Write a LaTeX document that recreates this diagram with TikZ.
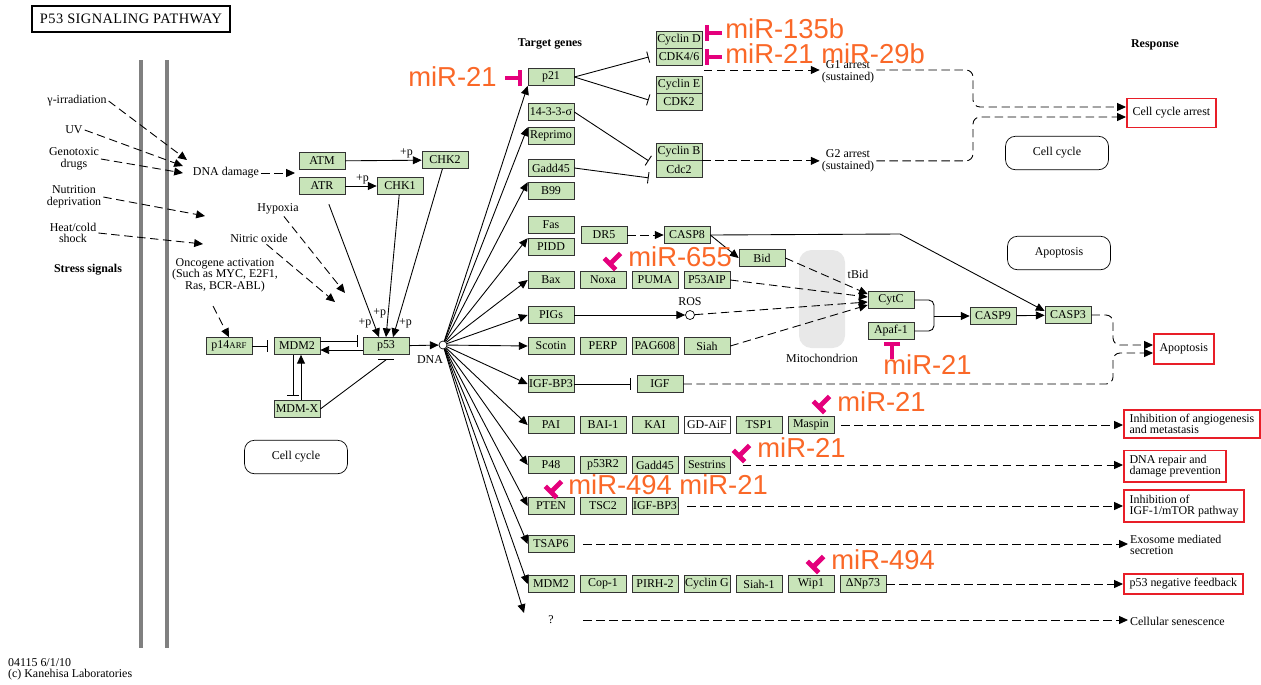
\documentclass[tikz,border=0pt]{standalone}
\usepackage{fontspec}
\setmainfont{Liberation Serif}
\newfontfamily\mirfont{Liberation Sans}
\newfontfamily\titlefont[LetterSpace=3]{Liberation Serif}
\usetikzlibrary{arrows.meta,calc}
\definecolor{genegreen}{RGB}{200,228,185}
\definecolor{respred}{RGB}{232,30,40}
\definecolor{mirorange}{RGB}{250,104,40}
\definecolor{mirpink}{RGB}{228,0,124}
\definecolor{wallgray}{RGB}{128,128,128}
\definecolor{mitogray}{RGB}{232,232,232}
\newcommand{\kegg}{\fontsize{6.8}{6.5}\selectfont}
\newcommand{\mirtee}[2]{%
  \begin{scope}[shift={#1}, rotate=#2]
    \draw[tee] (0,-8) -- (0,8);
    \draw[tee] (0,0) -- (15,0);
  \end{scope}}

\begin{document}
\begin{tikzpicture}[
  x=0.02cm, y=-0.02cm,
  gene/.style={rectangle, draw=black!80, fill=genegreen, minimum width=0.92cm, minimum height=0.34cm, inner sep=0pt, font=\kegg},
  resp/.style={rectangle, draw=respred, line width=1.1pt, align=left, inner xsep=3.2pt, inner ysep=2.5pt, font=\kegg, anchor=west},
  map/.style={rectangle, draw, rounded corners=0.2cm, minimum width=2.06cm, minimum height=0.67cm, font=\kegg},
  txt/.style={align=center, inner sep=1pt, font=\kegg},
  mir/.style={inner sep=0pt, text=mirorange, font=\mirfont\fontsize{15.6}{16}\selectfont},
  act/.style={-{Triangle[length=5pt,width=4.5pt]}, line width=0.5pt},
  indirect/.style={act, dash pattern=on 4.8pt off 2.6pt},
  inh/.style={-{Bar[width=6.5pt]}, line width=0.5pt},
  tee/.style={draw=mirpink, line width=2.8pt},
  node distance=1.04cm,
  font=\kegg
]
\useasboundingbox (0,0) rectangle (1261,684);
\fill[wallgray] (139,60) rectangle (143,648);
\fill[wallgray] (165,60) rectangle (169,648);
\fill[mitogray, rounded corners=0.25cm] (799,250) rectangle (845,348);

\node[draw, line width=1.3pt, minimum width=3.96cm, minimum height=0.52cm, inner xsep=2pt, font=\titlefont\fontsize{8.2}{9}\selectfont] (title) at (131,19) {P53 SIGNALING PATHWAY};

\node[txt] (gamma) at (77,101) {γ-irradiation};
\node[txt] (uv) at (74,130) {UV};
\node[txt] (geno) at (74,159) {Genotoxic\\drugs};
\node[txt] (nutri) at (74,197) {Nutrition\\deprivation};
\node[txt] (heat) at (73,233) {Heat/cold\\shock};
\node[txt, font=\kegg\bfseries] (stress) at (88,270) {Stress signals};
\node[txt] (dnadmg) at (226,173) {DNA damage};
\node[txt] (hypoxia) at (278,209) {Hypoxia};
\node[txt] (nitric) at (259,238) {Nitric oxide};
\node[txt] (onco) at (225,275) {Oncogene activation\\(Such as MYC, E2F1,\\Ras, BCR-ABL)};
\coordinate (dd1) at (187,160);
\coordinate (dd2) at (183,166);
\coordinate (dd3) at (183,173);
\coordinate (nutriend) at (205,216);
\coordinate (heatend) at (203,244);
\coordinate (ddend) at (295,173);
\coordinate (hypend) at (345,293);
\coordinate (noend) at (335,302);
\coordinate (oncostart) at (213,306);

\node[gene] (atm) at (322,161) {ATM};
\node[gene] (atr) at (322,186) {ATR};
\node[gene] (chk2) at (445,160) {CHK2};
\node[gene] (chk1) at (400,186) {CHK1};
\node[gene] (p53) at (386,346) {p53};
\node[gene] (mdm2) at (297,346) {MDM2};
\node[gene] (p14) at (229,346) {p14{\fontsize{5}{5}\selectfont ARF}};
\node[gene] (mdmx) at (297,409) {MDM-X};
\node[circle, draw, fill=white, inner sep=0pt, minimum size=0.16cm] (dna) at (443,345) {};
\node[txt] (dnalbl) at (430,360) {DNA};
\node[map] (cellcycleA) at (296,457) {Cell cycle};
\node[txt, anchor=west, align=left] (footer) at (6,669) {04115 6/1/10\\(c) Kanehisa Laboratories};

\draw[indirect] (gamma.east) -- (dd1);
\draw[indirect] (uv.east) -- (dd2);
\draw[indirect] (geno.east) -- (dd3);
\draw[indirect] (nutri.east) -- (nutriend);
\draw[indirect] (heat.east) -- (heatend);
\draw[indirect] (dnadmg) -- (ddend);
\draw[indirect] (hypoxia) -- (hypend);
\draw[indirect] (nitric) -- (noend);
\draw[indirect] (oncostart) -- (p14.north);
\draw[act] (atm) -- node[above, pos=0.8, inner sep=1pt] {+p} (chk2);
\draw[act] (atr) -- node[above, pos=0.55, inner sep=1pt] {+p} (chk1);
\draw[act, shorten <=0.2cm] (atr) -- node[left, pos=0.9, inner sep=1pt] {+p} ($(p53.north)+(-7,0)$);
\draw[act] (chk1) -- node[left, pos=0.83, inner sep=1pt] {+p} (p53.north);
\draw[act] (chk2) -- node[right, pos=0.92, inner sep=1pt] {+p} ($(p53.north)+(7,0)$);
\draw[inh] ($(mdm2.east)+(0,-5)$) -- ($(p53.west)+(-5,-5)$);
\draw[act] ($(p53.west)+(0,4)$) -- ($(mdm2.east)+(0,4)$);
\draw[inh] (p14) -- ($(mdm2.west)+(-6,0)$);
\draw[inh] ($(mdm2.south)+(-4,0)$) -- ($(mdmx.north)+(-4,-4)$);
\draw[act] ($(mdmx.north)+(4,0)$) -- ($(mdm2.south)+(4,0)$);
\draw[line width=0.5pt] (mdmx.east) -- ($(p53.south)+(0,5)$);
\draw[line width=0.5pt] ($(p53.south)+(-8,5)$) -- ($(p53.south)+(8,5)$);
\draw[act] (p53) -- (dna);

\node[txt, font=\kegg\bfseries] (tghead) at (550,44) {Target genes};
\node[txt, font=\kegg\bfseries] (resphead) at (1155,45) {Response};
\node[gene] (p21) at (551,77) {p21};
\node[gene] (sigma) at (551,112) {14-3-3-σ};
\node[gene] (reprimo) at (551,136) {Reprimo};
\node[gene] (gadd) at (551,168) {Gadd45};
\node[gene] (b99) at (551,191) {B99};
\node[gene] (fas) at (551,225) {Fas};
\node[gene] (pidd) at (551,247) {PIDD};
\node[gene] (bax) at (551,280) {Bax};
\node[gene, right of=bax] (noxa) {Noxa};
\node[gene, right of=noxa] (puma) {PUMA};
\node[gene, right of=puma] (p53aip) {P53AIP};
\node[gene] (pigs) at (551,315) {PIGs};
\node[gene] (scotin) at (551,346) {Scotin};
\node[gene, right of=scotin] (perp) {PERP};
\node[gene, right of=perp] (pag) {PAG608};
\node[gene, right of=pag] (siah) {Siah};
\node[gene] (igfbp) at (551,384) {IGF-BP3};
\node[gene] (igf) at (660,384) {IGF};
\node[gene] (pai) at (551,425) {PAI};
\node[gene, right of=pai] (bai) {BAI-1};
\node[gene, right of=bai] (kai) {KAI};
\node[gene, right of=kai, fill=white] (gdaif) {GD-AiF};
\node[gene, right of=gdaif] (tsp) {TSP1};
\node[gene, right of=tsp] (maspin) {Maspin};
\node[gene] (p48) at (551,465) {P48};
\node[gene, right of=p48] (p53r2) {p53R2};
\node[gene, right of=p53r2] (gadd2) {Gadd45};
\node[gene, right of=gadd2] (sestrins) {Sestrins};
\node[gene] (pten) at (551,506) {PTEN};
\node[gene, right of=pten] (tsc) {TSC2};
\node[gene, right of=tsc] (igfbp2) {IGF-BP3};
\node[gene] (tsap) at (551,544) {TSAP6};
\node[gene] (mdmb) at (551,584) {MDM2};
\node[gene, right of=mdmb] (cop) {Cop-1};
\node[gene, right of=cop] (pirh) {PIRH-2};
\node[gene, right of=pirh] (cycg) {Cyclin G};
\node[gene, right of=cycg] (siahb) {Siah-1};
\node[gene, right of=siahb] (wip) {Wip1};
\node[gene, right of=wip] (dnp73) {ΔNp73};
\node[txt] (unknown) at (551,620) {?};
\coordinate (unkend) at (524,613);

\foreach \tgt in {p21.south west, reprimo.north west, b99.north west, pidd.north west, bax.west, pigs.west, scotin.west, igfbp.west, pai.west, p48.west, pten.west, tsap.west, mdmb.west, unkend}
  \draw[act] (dna) -- (\tgt);

\node[gene] (cycd) at (679,40) {Cyclin D};
\node[gene, below of=cycd, node distance=0.34cm] (cdk46) {CDK4/6};
\node[gene] (cyce) at (679,85) {Cyclin E};
\node[gene, below of=cyce, node distance=0.34cm] (cdk2) {CDK2};
\node[gene] (cycb) at (679,152) {Cyclin B};
\node[gene, below of=cycb, node distance=0.34cm] (cdc2) {Cdc2};
\draw[inh] (p21.east) -- ($(cdk46.west)+(-7,0)$);
\draw[inh] (p21.east) -- ($(cdk2.west)+(-7,-2)$);
\draw[inh] (sigma.east) -- ($(cycb.south west)+(-7,0)$);
\draw[inh] (gadd.east) -- ($(cdc2.south west)+(-7,0)$);

\node[txt] (g1) at (848,72) {G1 arrest\\(sustained)};
\node[txt] (g2) at (848,161) {G2 arrest\\(sustained)};
\node[map] (cellcycleB) at (1057,153) {Cell cycle};
\node[resp, minimum height=0.58cm] (cellarrest) at (1126,113) {Cell cycle arrest};
\coordinate (g1start) at (704,70);
\coordinate (ccin1) at (973,107);
\coordinate (ccin2) at (973,117);
\draw[indirect] (g1start) -- (g1.west |- g1start);
\draw[indirect, rounded corners=4pt] (g1.east |- g1start) -- (ccin1 |- g1start) -- (ccin1) -- (cellarrest.west |- ccin1);
\draw[indirect] (cycb.south east) -- (g2.west |- cycb.south east);
\draw[indirect, rounded corners=4pt] (g2.east |- cycb.south east) -- (ccin2 |- cycb.south east) -- (ccin2) -- (cellarrest.west |- ccin2);

\node[gene] (dr5) at (604,235) {DR5};
\node[gene] (casp8) at (687,235) {CASP8};
\node[gene] (bid) at (762,258) {Bid};
\node[circle, draw, fill=white, inner sep=0pt, minimum size=0.18cm] (ros) at (690,315) {};
\node[txt] (roslbl) at (690,302) {ROS};
\node[txt] (mitolbl) at (822,358) {Mitochondrion};
\node[txt] (tbid) at (858,274) {tBid};
\node[gene] (cytc) at (891,300) {CytC};
\node[gene] (apaf) at (891,331) {Apaf-1};
\node[gene] (casp9) at (993,316) {CASP9};
\node[gene] (casp3) at (1068,315) {CASP3};
\node[map] (apoptosisB) at (1059,253) {Apoptosis};
\node[resp, minimum height=0.6cm] (apop) at (1153,349) {Apoptosis};
\coordinate (c8turn) at (900,234);
\coordinate (brace) at (934,316);
\coordinate (apin1) at (1113,345);
\coordinate (apin2) at (1113,353);
\draw[indirect] (dr5) -- (casp8);
\draw[act] (casp8.east) -- (bid.west);
\draw[act] (casp8.east) -- (c8turn) -- ($(casp3.west)+(0,-4)$);
\draw[indirect] (bid.east) -- ($(cytc.west)+(0,-6)$);
\draw[indirect] (p53aip.east) -- ($(cytc.west)+(0,-3)$);
\draw[indirect] (ros) -- ($(cytc.west)+(0,2)$);
\draw[indirect] (siah.east) -- ($(cytc.west)+(0,5)$);
\draw[act] (pigs) -- (ros);
\draw[rounded corners=3pt, line width=0.5pt] (cytc.east) -- (cytc.east -| brace) -- (brace);
\draw[rounded corners=3pt, line width=0.5pt] (apaf.east) -- (apaf.east -| brace) -- (brace);
\draw[act] (brace) -- (casp9);
\draw[act] (casp9) -- (casp3);
\draw[indirect, rounded corners=4pt] (casp3.east) -- (casp3.east -| apin1) -- (apin1) -- (apop.west |- apin1);
\draw[inh] (igfbp) -- ($(igf.west)+(-6,0)$);
\draw[indirect, rounded corners=4pt] (igf.east) -- (igf.east -| apin2) -- (apin2) -- (apop.west |- apin2);

\node[resp] (angio) at (1123,424) {Inhibition of angiogenesis\\and metastasis};
\node[resp] (dnarep) at (1123,466) {DNA repair and\\damage prevention};
\node[resp] (igfmtor) at (1123,506) {Inhibition of\\IGF-1/mTOR pathway};
\node[txt, anchor=west, align=left] (exo) at (1128,545) {Exosome mediated\\secretion};
\node[resp] (feedback) at (1123,584) {p53 negative feedback};
\node[txt, anchor=west] (senes) at (1128,621) {Cellular senescence};
\draw[indirect, shorten <=4pt] (maspin.east) -- (angio.west |- maspin.east);
\draw[indirect, shorten <=7pt] (sestrins.east) -- (dnarep.west |- sestrins.east);
\draw[indirect, shorten <=5pt] (igfbp2.east) -- (igfmtor.west |- igfbp2.east);
\draw[indirect, shorten <=5pt] (tsap.east) -- (exo.west |- tsap.east);
\draw[indirect] (dnp73.east) -- (feedback.west |- dnp73.east);
\draw[indirect, shorten <=5pt] (tsap.east |- unknown) -- (senes.west |- unknown);

\node[mir, anchor=east] (mirA) at (497,77) {miR-21};
\node[mir, anchor=west] (mirB) at (725,29) {miR-135b};
\node[mir, anchor=west] (mirC) at (725,54) {miR-21 miR-29b};
\node[mir, anchor=west] (mirD) at (628,257) {miR-655};
\node[mir, anchor=west] (mirE) at (883,365) {miR-21};
\node[mir, anchor=west] (mirF) at (837,402) {miR-21};
\node[mir, anchor=west] (mirG) at (757,448) {miR-21};
\node[mir, anchor=west] (mirH) at (568,485) {miR-494 miR-21};
\node[mir, anchor=west] (mirI) at (831,560) {miR-494};
\mirtee{(520,78)}{180}
\mirtee{(707,33)}{0}
\mirtee{(707,57)}{0}
\mirtee{(892,344)}{-90}
\mirtee{(610,264)}{45}
\mirtee{(819,407)}{45}
\mirtee{(739,456)}{45}
\mirtee{(551,492)}{45}
\mirtee{(813,567)}{45}
\end{tikzpicture}
\end{document}
